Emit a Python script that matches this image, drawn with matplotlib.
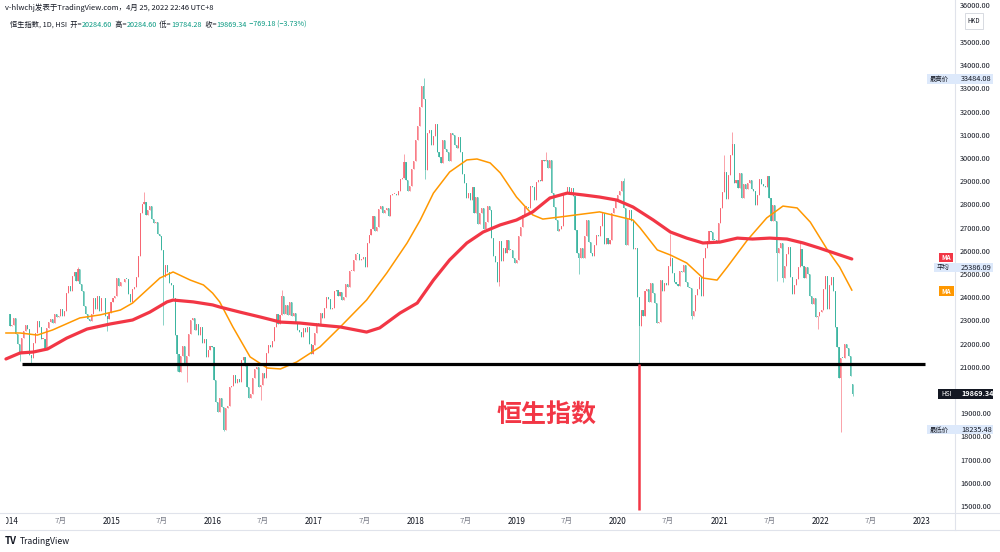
import matplotlib
matplotlib.use("Agg")
import matplotlib.pyplot as plt
import matplotlib.transforms as mtransforms
from matplotlib.lines import Line2D
from matplotlib.patches import Rectangle
import numpy as np
import pandas as pd

plt.rcParams["font.family"] = ["Noto Sans CJK SC", "DejaVu Sans"]

# HSI weekly closes (week ending Friday)
c2014 = [22817, 22846, 23133, 22451, 22035,
         21636, 22299, 22568, 22837,
         22660, 21540, 21436, 22065,
         22510, 23003, 22760, 22224,
         22260, 21863, 22712, 22965, 23082,
         22951, 23320, 23194, 23221,
         23547, 23233, 23454, 24216,
         24532, 24331, 24955, 25112, 24742,
         25240, 24595, 24306, 23678,
         23315, 23088, 23023, 23302, 23998,
         23550, 24087, 23437, 23987,
         24002, 23250, 23116, 23349]
c2015 = [23857, 24026, 24103, 24850, 24507,
         24679, 24682, 24832, 24823,
         24164, 23823, 24375, 24486,
         24900, 25808, 27653, 28060,
         28133, 27577, 27822, 27993, 27424,
         27260, 27280, 26760, 26663,
         26064, 24901, 25415, 25128, 24636,
         24552, 23991, 22410, 21612,
         20840, 21504, 21920, 21186,
         21506, 22459, 23067, 23151, 22640,
         22867, 22397, 22755, 22068,
         22235, 21464, 21756, 21919]
c2016 = [21914, 20454, 19520, 19081, 19683,
         19289, 18320, 19286, 19364,
         20176, 20200, 20671, 20345,
         20498, 20370, 21316, 21467, 21067,
         20156, 19719, 19853, 20576,
         20947, 21042, 20170, 20259,
         20794, 20564, 21659, 21964, 21891,
         22146, 22767, 23336, 22909,
         23266, 24099, 23335, 23686, 23297,
         23852, 23233, 23374, 22954,
         22642, 22532, 22344, 22723,
         22564, 22761, 22020, 21574, 22001]
c2017 = [22503, 22937, 22885, 23361,
         23129, 23574, 24033, 23965,
         23553, 23568, 24309, 24358, 24111,
         24267, 23924, 24042, 24615,
         24476, 25156, 25174, 25639,
         25924, 25915, 25626, 25670, 25765,
         25341, 26389, 26706, 26979,
         27563, 26884, 27048, 27848,
         27953, 27668, 27807, 27880, 27554,
         28458, 28476, 28487, 28438,
         28604, 29121, 29199, 29866,
         29074, 28640, 28848, 29578, 29919]
c2018 = [30814, 31412, 32254, 33154,
         32601, 29507, 31115, 31267,
         30583, 30996, 31502, 30309, 30093,
         29844, 30809, 30418, 30281,
         29927, 31122, 31048, 30588,
         30492, 30958, 30309, 29339, 28955,
         28316, 28525, 28224, 28804,
         27676, 28367, 27213, 27672, 27888,
         26973, 27286, 27953, 27788,
         26573, 25801, 25561, 24717,
         26486, 25601, 26183, 25928, 26506,
         26063, 26094, 25753, 25504]
c2019 = [25626, 26667, 27090, 27569,
         27930, 27946, 27901, 28816,
         28812, 28228, 29012, 29113, 29051,
         29936, 29909, 29963, 29605,
         29944, 28550, 27946, 27353, 26901,
         26965, 27118, 28473, 28543,
         28775, 28471, 28765, 28397,
         26919, 25939, 25734, 26179, 25725,
         26691, 27353, 26435, 25955,
         25821, 26308, 26720, 26667,
         27100, 27651, 26327, 26595, 26346,
         26498, 27687, 27871, 28225]
c2020 = [28452, 28638, 29056, 27909, 26313,
         27404, 27815, 27308, 26129,
         26146, 24033, 22805, 23484,
         23236, 24300, 24380, 23831,
         24643, 24230, 23797, 22930, 22961,
         24770, 24301, 24644, 24549,
         25373, 25727, 25089, 24705, 24595,
         24531, 25183, 25113, 25422,
         24695, 24503, 24455, 23235,
         23459, 24119, 24386, 24918, 24107,
         25713, 26157, 26451, 26894,
         26835, 26506, 26498, 26387]
c2021 = [27231, 27878, 28573, 29447, 28284,
         29289, 30173, 30644, 28980,
         29098, 28739, 29405, 28336,
         28939, 28699, 28970, 29079, 28725,
         28610, 28027, 28458, 29124,
         28918, 28842, 28801, 29288,
         28310, 27344, 28004, 27322, 25961,
         26179, 26391, 24849, 25407,
         25901, 26205, 24920, 24192,
         24576, 24838, 25331, 26127, 25377,
         24871, 25328, 25050, 24080,
         23766, 23996, 23193, 23224, 23398]
c2022 = [23493, 24383, 24966, 23550,
         24573, 24906, 24328, 22767,
         21906, 20554, 21412, 21405,
         22039, 21872, 21518, 20639, 19869.34]

first_open = 23306
last_open = 20284.60

# weeks with visible wick extremes
wick_dates = ["2014-02-07", "2014-03-21", "2014-09-05", "2014-12-19", "2015-05-01",
              "2015-07-10", "2015-08-28", "2015-10-02", "2016-02-12", "2016-06-24",
              "2016-09-09", "2017-11-24", "2018-02-02", "2018-02-09", "2018-11-02",
              "2019-04-19", "2019-08-16", "2020-01-24", "2020-03-20", "2020-07-10",
              "2020-09-25", "2021-01-22", "2021-02-19", "2021-07-30", "2021-08-20",
              "2021-10-22", "2021-12-24", "2022-03-18", "2022-04-29"]
wick_high = [None, None, 25362, None, 28588,
             None, None, None, None, None,
             24364, 30199, 33484.08, None, None,
             30280, None, 29175, None, 26782,
             None, 30191, 31183, None, None,
             26441, None, None, 20284.60]
wick_low = [21300, 21137, None, 22587, None,
            22834, 20865, 20368, 18278, 19594,
            None, None, None, 29129, 24540,
            None, 25064, None, 21139, None,
            23124, None, None, 24750, 24700,
            None, 22665, 18235.48, 19784.28]

# moving averages (decimal year, value)
red_ma_t = [2013.96, 2014.10, 2014.23, 2014.37, 2014.56, 2014.76, 2014.99, 2015.21, 2015.38,
            2015.55, 2015.61, 2015.81, 2016.00, 2016.07, 2016.27, 2016.47, 2016.67, 2016.86,
            2017.06, 2017.26, 2017.52, 2017.65, 2017.85, 2018.02, 2018.18, 2018.34, 2018.51,
            2018.67, 2018.84, 2019.00, 2019.16, 2019.33, 2019.50, 2019.66, 2019.82, 2019.99,
            2020.15, 2020.35, 2020.52, 2020.68, 2020.84, 2021.01, 2021.18, 2021.33, 2021.50,
            2021.67, 2021.83, 2021.99, 2022.16, 2022.31]
red_ma_v = [21380, 21640, 21680, 21810, 22280, 22670, 22890, 23060, 23400,
            23840, 23920, 23840, 23710, 23620, 23400, 23190, 22970, 22930,
            22840, 22760, 22540, 22720, 23360, 23790, 24780, 25650, 26380,
            26850, 27160, 27370, 27720, 28320, 28530, 28450, 28360, 28230,
            27930, 27370, 26850, 26590, 26380, 26420, 26590, 26550, 26590,
            26550, 26380, 26160, 25910, 25690]
orange_ma_t = [2013.96, 2014.10, 2014.27, 2014.42, 2014.69, 2014.89, 2015.09, 2015.21, 2015.35,
               2015.48, 2015.61, 2015.78, 2015.91, 2016.00, 2016.07, 2016.20, 2016.37, 2016.54,
               2016.67, 2016.83, 2017.06, 2017.26, 2017.52, 2017.72, 2017.92, 2018.05, 2018.18,
               2018.34, 2018.51, 2018.61, 2018.74, 2018.84, 2019.00, 2019.16, 2019.26, 2019.43,
               2019.66, 2019.82, 2019.99, 2020.15, 2020.22, 2020.39, 2020.52, 2020.68, 2020.84,
               2020.98, 2021.08, 2021.28, 2021.47, 2021.63, 2021.77, 2021.90, 2022.07, 2022.19,
               2022.31]
orange_ma_v = [22500, 22500, 22410, 22630, 23150, 23280, 23490, 23790, 24350,
               24870, 25130, 24780, 24570, 24220, 23840, 22760, 21470, 20990,
               20950, 21250, 21900, 22760, 23920, 25090, 26380, 27370, 28530,
               29440, 29960, 30000, 29830, 29400, 28360, 27590, 27410, 27500,
               27630, 27720, 27540, 27370, 27030, 26080, 25860, 25520, 24870,
               24780, 25340, 26510, 27460, 27970, 27890, 27280, 26080, 25340,
               24350]

support_level = 21150
crash_day = "2020-03-19"

price_ticks = list(range(15000, 36000, 1000))
hidden_ticks = [20000]          # covered by the HSI last-price tag
top_tick = 36000                # only its top edge peeks out above the HKD tag
year_ticks = list(range(2014, 2024))
mid_ticks = list(range(2014, 2023))

header = "v-hlwchj发表于TradingView.com，4月 25, 2022 22:46 UTC+8"
title_parts = [("恒生指数, 1D, HSI", "label"), ("  开=", "label"), ("20284.60", "value"),
               ("  高=", "label"), ("20284.60", "value"), ("  低=", "label"),
               ("19784.28", "value"), ("  收=", "label"), ("19869.34", "value"),
               ("  −769.18 (−3.73%)", "value")]

UP = "#f23645"
DOWN = "#089981"
TEXT = "#131722"
W, H = 1000, 552


def fx(px):
    return px / W


def fy(py):
    return 1 - py / H


def decimal_year(d):
    return np.asarray(d.year + (d.dayofyear - 1) / 365.25, dtype=float)


fig = plt.figure(figsize=(10, 5.52), dpi=100)
fig.patch.set_facecolor("white")
ax = fig.add_axes([0, fy(513), fx(955), fy(0) - fy(513)])
ax.set_xlim(2014 - 10 / 101.3, 2014 + 945 / 101.3)
ax.set_ylim(14741, 36853)
ax.axis("off")

# candles
closes = np.array(c2014 + c2015 + c2016 + c2017 + c2018 + c2019 + c2020 + c2021 + c2022, dtype=float)
dates = pd.date_range("2014-01-03", periods=len(closes), freq="W-FRI")
t = decimal_year(dates - pd.Timedelta(days=2))
opens = np.r_[first_open, closes[:-1]]
opens[-1] = last_open
highs = np.maximum(opens, closes)
lows = np.minimum(opens, closes)
body_lo = lows.copy()
idx = dates.get_indexer(pd.to_datetime(wick_dates))
for i, h, l in zip(idx, wick_high, wick_low):
    if i < 0:
        continue
    if h is not None:
        highs[i] = max(highs[i], h)
    if l is not None:
        lows[i] = min(lows[i], l)
cols = np.where(closes >= opens, "#f7525f", "#22ab94")
ax.vlines(t, lows, highs, colors=cols, linewidth=0.5, alpha=0.75, zorder=2)
ax.bar(t, np.maximum(np.abs(closes - opens), 40), bottom=body_lo, width=4.0 / 365.25,
       color=cols, linewidth=0, alpha=0.75, zorder=2)

ax.plot(orange_ma_t, orange_ma_v, color="#ff9800", linewidth=1.1, zorder=3)
ax.plot(red_ma_t, red_ma_v, color="#f23645", linewidth=2.3, zorder=4, solid_capstyle="round")

ax.hlines(support_level, 2014 + 12 / 101.3, 2014 + 915 / 101.3, color="black", linewidth=2.3, zorder=5)
crash_t = decimal_year(pd.DatetimeIndex([crash_day]))[0]
ax.vlines(crash_t, 14850, support_level, color=UP, linewidth=1.8, zorder=5)

fig.text(fx(547), fy(416), "恒生指数", color=UP, fontsize=18, fontweight="bold",
         ha="center", va="center")

# separators
for py in (513, 530):
    fig.add_artist(Line2D([0, 1], [fy(py), fy(py)], transform=fig.transFigure,
                          color="#e0e3eb", linewidth=0.8))
fig.add_artist(Line2D([fx(955), fx(955)], [fy(0), fy(530)], transform=fig.transFigure,
                      color="#e0e3eb", linewidth=0.8))

# price axis labels
ytrans = mtransforms.blended_transform_factory(fig.transFigure, ax.transData)
for v in price_ticks:
    if v in hidden_ticks:
        continue
    ax.text(fx(960), v, f"{v:.2f}", transform=ytrans, fontsize=5.3, color=TEXT,
            ha="left", va="center", clip_on=False)
fig.text(fx(960), fy(6), f"{top_tick:.2f}", fontsize=5.3, color=TEXT, ha="left", va="center")

# time axis labels
xtrans = mtransforms.blended_transform_factory(ax.transData, fig.transFigure)
for yr in year_ticks:
    lbl = ax.text(yr, fy(521), str(yr), transform=xtrans, fontsize=5.8, color=TEXT,
                  ha="center", va="center", clip_on=True)
    lbl.set_clip_path(Rectangle((fx(6), 0), 1, 1, transform=fig.transFigure))
for yr in mid_ticks:
    ax.text(yr + 0.496, fy(521), "7月", transform=xtrans, fontsize=5.6, color="#787b86",
            ha="center", va="center", clip_on=False)


def box(x0, y0, x1, y1, fc, ec="none"):
    fig.add_artist(Rectangle((fx(x0), fy(y1)), fx(x1) - fx(x0), fy(y0) - fy(y1),
                             transform=fig.transFigure, facecolor=fc, edgecolor=ec,
                             linewidth=0.6, zorder=6))


def label(px, py, s, color=TEXT, size=5.0, ha="left", weight="normal"):
    fig.text(fx(px), fy(py), s, color=color, fontsize=size, ha=ha, va="center",
             fontweight=weight, zorder=7)


box(927, 74, 993, 84, "#dde9fb")
label(930, 79, "最高价", size=4.6)
label(961, 79, "33484.08", size=5.3)
box(939, 253, 953, 262, UP)
label(946, 257.5, "MA", color="white", size=4.6, ha="center", weight="bold")
box(934, 263, 993, 272, "#dde9fb")
label(937, 267.5, "平均", size=4.6)
label(961, 267.5, "25386.09", size=5.3)
box(939, 286, 954, 296, "#ff9800")
label(946.5, 291, "MA", color="white", size=4.6, ha="center", weight="bold")
box(938, 389, 993, 399, TEXT)
label(941, 394, "HSI", color="white", size=4.8)
label(961, 394, "19869.34", color="white", size=5.3, weight="bold")
box(927, 425, 993, 434, "#dde9fb")
label(930, 429.5, "最低价", size=4.6)
label(961, 429.5, "18235.48", size=5.3)
box(965, 13, 983, 29, "white", ec="#d1d4dc")
label(974, 21, "HKD", size=4.4, ha="center")

# header and legend row
fig.text(fx(5), fy(8), header, fontsize=5.4, color=TEXT, va="center")
colors = {"label": TEXT, "value": DOWN}
prev = fig.text(fx(10), fy(29), title_parts[0][0], fontsize=5.2, color=TEXT, va="bottom")
for s, kind in title_parts[1:]:
    prev = ax.annotate(s, xy=(1, 0), xycoords=prev, xytext=(0, 0), textcoords="offset points",
                       fontsize=5.2, color=colors[kind], va="bottom", ha="left",
                       annotation_clip=False)

# footer logo
fig.text(fx(5), fy(541), "TV", fontsize=7, fontweight="bold", color=TEXT, va="center")
fig.text(fx(20), fy(541), "TradingView", fontsize=6.2, color=TEXT, va="center")

fig.savefig("out.png", dpi=100, facecolor="white")
